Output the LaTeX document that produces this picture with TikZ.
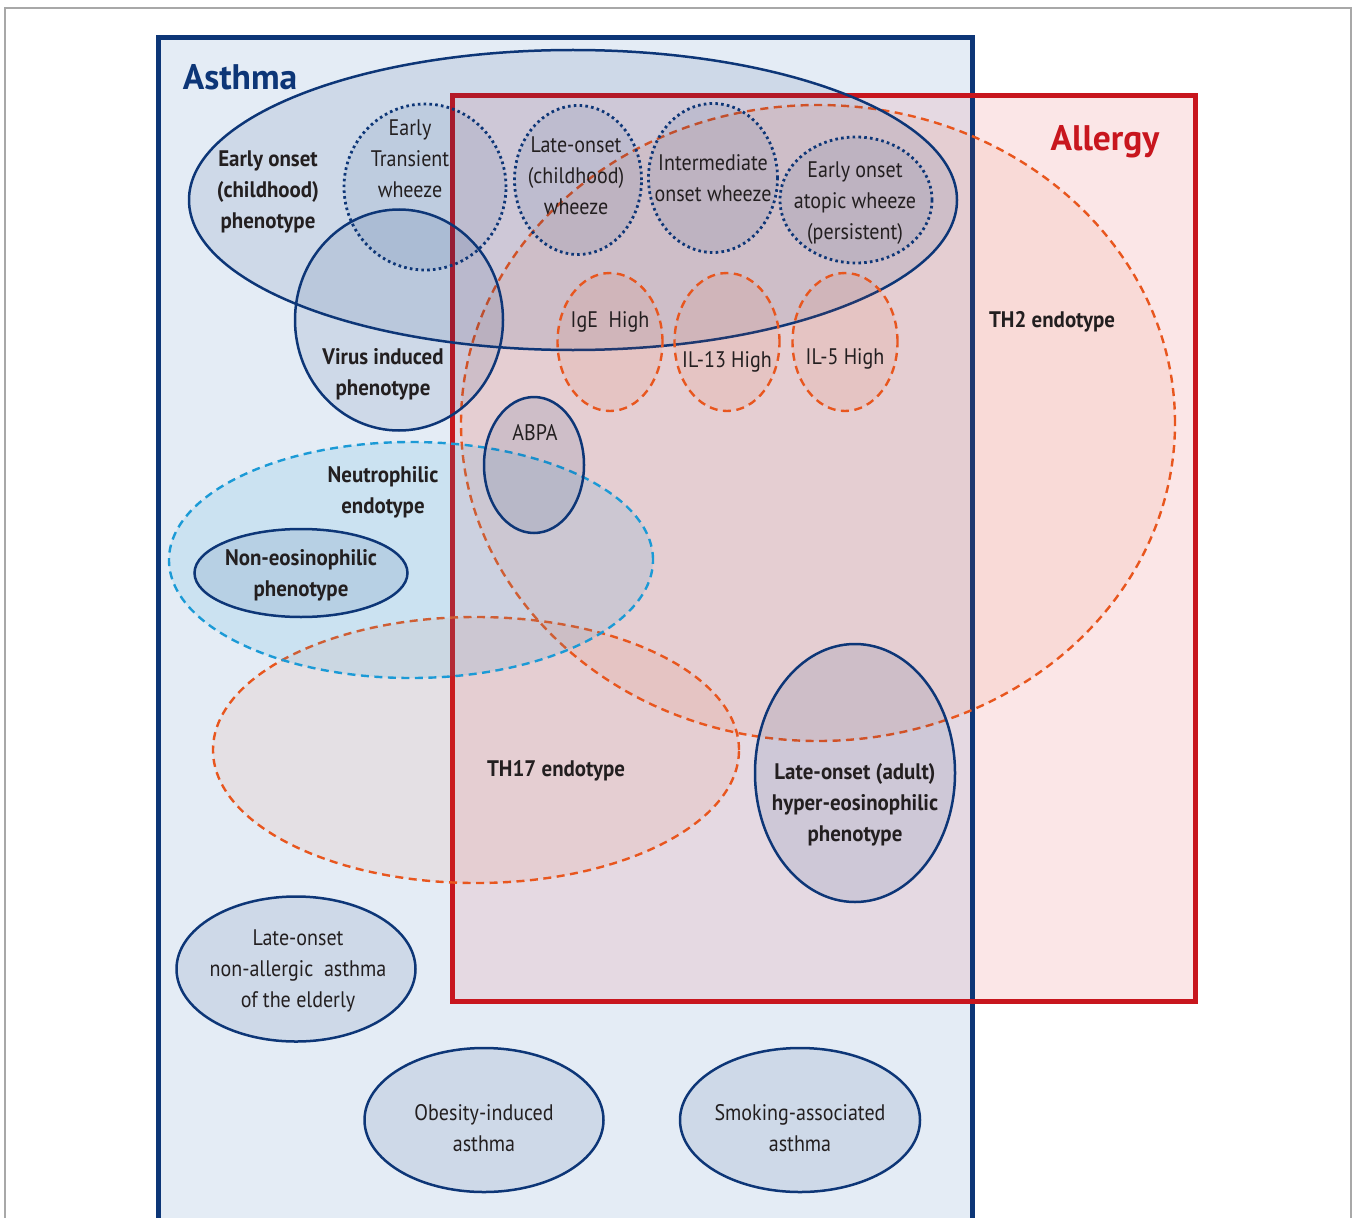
\documentclass[tikz,border=0pt]{standalone}
\usepackage{fontspec}
\setmainfont{PT Sans}[FakeStretch=0.89, BoldFeatures={FakeStretch=0.93}]
\newfontfamily\titlefont{PT Sans}
\usetikzlibrary{shapes.geometric}
\definecolor{navy}{HTML}{0D3677}
\definecolor{allred}{HTML}{C8161E}
\definecolor{orng}{HTML}{E8561E}
\definecolor{cyanb}{HTML}{1B9AD6}
\definecolor{asthfill}{HTML}{E4ECF5}
\definecolor{allfill}{HTML}{FBE6E7}
\definecolor{bothfill}{HTML}{E5D9E2}
\definecolor{txt}{HTML}{231F20}
\definecolor{framegrey}{HTML}{A8A8A8}
\tikzset{
  solidell/.style={ellipse, inner sep=0pt, draw=navy, line width=2.5pt, fill=navy, fill opacity=0.1},
  dottedell/.style={ellipse, inner sep=0pt, draw=navy, line width=2.8pt, dash pattern=on 2.6pt off 3.2pt, fill=navy, fill opacity=0.08},
  orangeell/.style={ellipse, inner sep=0pt, draw=orng, line width=2.4pt, dash pattern=on 8pt off 5.5pt, fill=orng, fill opacity=0.08},
  blueell/.style={ellipse, inner sep=0pt, draw=cyanb, line width=2.4pt, dash pattern=on 8pt off 5.5pt, fill=cyanb, fill opacity=0.12},
  lbl/.style={text=txt, align=center, inner sep=0pt, font=\fontsize{22.5}{31}\selectfont},
  blbl/.style={text=txt, align=center, inner sep=0pt, font=\fontsize{22.5}{31}\selectfont\bfseries},
  title/.style={anchor=base, inner sep=0pt, font=\fontsize{35.5}{40}\titlefont\bfseries},
}
\begin{document}
\begin{tikzpicture}[x=1pt,y=-1pt]
\useasboundingbox (0,0) rectangle (1356,1217);
\clip (0,0) rectangle (1356,1217);
\fill[white] (0,0) rectangle (1356,1217);
\draw[framegrey, line width=1.2pt] (5,8) rectangle (1351,1240);

% region fills
\fill[asthfill] (158,38) rectangle (972,1240);
\fill[allfill] (452,96) rectangle (1195,1001);
\fill[bothfill] (452,96) rectangle (972,1001);
% rectangle borders
\draw[navy, line width=5pt] (158,1240) -- (158,38) -- (972,38) -- (972,1240);
\draw[allred, line width=5pt] (452,96) rectangle (1195,1001);

\node[title, text=navy] (asthma) at (240,90) {Asthma};
\node[title, text=allred] (allergy) at (1105,151) {Allergy};

% endotypes
\node[orangeell, minimum width=714pt, minimum height=636pt] (th2) at (818,423) {};
\node[orangeell, minimum width=526pt, minimum height=266pt] (th17) at (476,750) {};
\node[blueell, minimum width=484pt, minimum height=236pt] (neutro) at (411,560) {};

% early onset phenotype
\node[solidell, minimum width=768pt, minimum height=300pt] (early) at (573,200) {};
\node[dottedell, minimum width=162pt, minimum height=166pt] (transient) at (425,187) {};
\node[dottedell, minimum width=127pt, minimum height=149pt] (lateonsetw) at (578,180) {};
\node[dottedell, minimum width=129pt, minimum height=149pt] (intermed) at (713,178) {};
\node[dottedell, minimum width=152pt, minimum height=126pt] (atopic) at (856,200) {};
\node[solidell, minimum width=208pt, minimum height=221pt] (virus) at (399,320) {};

\node[orangeell, minimum width=105pt, minimum height=138pt] (ige) at (610,342) {};
\node[orangeell, minimum width=105pt, minimum height=138pt] (il13) at (727,342) {};
\node[orangeell, minimum width=105pt, minimum height=138pt] (il5) at (845,342) {};

\node[solidell, minimum width=100pt, minimum height=136pt] (abpa) at (534,465) {};
\node[solidell, minimum width=213pt, minimum height=88pt] (noneos) at (301,573) {};
\node[solidell, minimum width=200pt, minimum height=258pt] (adult) at (855,773) {};

\node[solidell, minimum width=239pt, minimum height=145pt] (elderly) at (296,969) {};
\node[solidell, minimum width=239pt, minimum height=144pt] (obesity) at (484,1120) {};
\node[solidell, minimum width=240pt, minimum height=144pt] (smoking) at (800,1120) {};

% labels
\node[blbl] (earlyt) at (268,192) {Early onset\\(childhood)\\phenotype};
\node[lbl] (transientt) at (410,159) {Early\\Transient\\wheeze};
\node[lbl] (lateonsetwt) at (576,176) {Late-onset\\(childhood)\\wheeze};
\node[lbl] (intermedt) at (713,178) {Intermediate\\onset wheeze};
\node[lbl] (atopict) at (855,203) {Early onset\\atopic wheeze\\(persistent)};
\node[blbl] (virust) at (383,374) {Virus induced\\phenotype};
\node[lbl] (iget) at (610,322) {IgE\ \ High};
\node[lbl] (il13t) at (727,362) {IL-13 High};
\node[lbl] (il5t) at (845,359) {IL-5 High};
\node[blbl] (th2t) at (1052,322) {TH2 endotype};
\node[lbl] (abpat) at (535,433) {ABPA};
\node[blbl] (neutrot) at (383,492) {Neutrophilic\\endotype};
\node[blbl] (noneost) at (301,575) {Non-eosinophilic\\phenotype};
\node[blbl] (th17t) at (556,771) {TH17 endotype};
\node[blbl] (adultt) at (855,805) {Late-onset (adult)\\hyper-eosinophilic\\phenotype};
\node[lbl] (elderlyt) at (298,971) {Late-onset\\non-allergic\ \ asthma\\of the elderly};
\node[lbl] (obesityt) at (484,1128) {Obesity-induced\\asthma};
\node[lbl] (smokingt) at (800,1128) {Smoking-associated\\asthma};
\end{tikzpicture}
\end{document}
